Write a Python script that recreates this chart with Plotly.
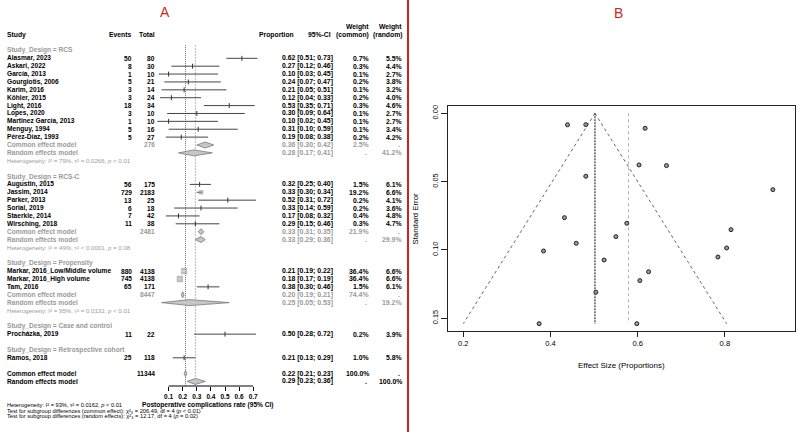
import math
import plotly.graph_objects as go

W, H = 798, 432
FONT = "Liberation Sans, Arial, Helvetica, sans-serif"
GRAY_TXT = "#9a9a9a"
RED = "#d01f1f"

# ---------------- Forest plot data ----------------
group_names = ["RCS", "RCS-C", "Propensity", "Case and control", "Retrospective cohort"]

study_names = ["Alasmar, 2023", "Askari, 2022", "García, 2013", "Gourgiotis, 2006", "Karim, 2016",
               "Köhler, 2015", "Light, 2016", "Lopes, 2020", "Martinez García, 2013", "Menguy, 1994",
               "Pérez-Díaz, 1993",
               "Augustin, 2015", "Jassim, 2014", "Parker, 2013", "Sorial, 2019", "Staerkle, 2014",
               "Wirsching, 2018",
               "Markar, 2016_Low/Middle volume", "Markar, 2016_High volume", "Tam, 2016",
               "Procházka, 2019",
               "Ramos, 2018"]
study_group = [0] * 11 + [1] * 6 + [2] * 3 + [3] + [4]
events = [50, 8, 1, 5, 3, 3, 18, 3, 1, 5, 5, 56, 729, 13, 6, 7, 11, 880, 745, 65, 11, 25]
totals = [80, 30, 10, 21, 14, 24, 34, 10, 10, 16, 27, 175, 2183, 25, 18, 42, 38, 4138, 4138, 171, 22, 118]
proportion = [0.62, 0.27, 0.10, 0.24, 0.21, 0.12, 0.53, 0.30, 0.10, 0.31, 0.19,
              0.32, 0.33, 0.52, 0.33, 0.17, 0.29, 0.21, 0.18, 0.38, 0.50, 0.21]
ci_lower = [0.51, 0.12, 0.03, 0.07, 0.05, 0.04, 0.35, 0.09, 0.02, 0.10, 0.08,
            0.25, 0.30, 0.31, 0.14, 0.08, 0.15, 0.19, 0.17, 0.30, 0.28, 0.13]
ci_upper = [0.73, 0.46, 0.45, 0.47, 0.51, 0.33, 0.71, 0.64, 0.45, 0.59, 0.38,
            0.40, 0.34, 0.72, 0.59, 0.32, 0.46, 0.22, 0.19, 0.46, 0.72, 0.29]
weight_common = [0.7, 0.3, 0.1, 0.2, 0.1, 0.2, 0.3, 0.1, 0.1, 0.1, 0.2,
                 1.5, 19.2, 0.2, 0.2, 0.4, 0.3, 36.4, 36.4, 1.5, 0.2, 1.0]
weight_random = [5.5, 4.4, 2.7, 3.8, 3.2, 4.0, 4.6, 2.7, 2.7, 3.4, 4.2,
                 6.1, 6.6, 4.1, 3.6, 4.8, 4.7, 6.6, 6.6, 6.1, 3.9, 5.8]

# subgroup summaries (groups with more than one study)
sub_total = [276, 2481, 8447]
sub_common_est = [0.36, 0.33, 0.20]
sub_common_lo = [0.30, 0.31, 0.19]
sub_common_hi = [0.42, 0.35, 0.21]
sub_common_weight = [2.5, 21.9, 74.4]
sub_random_est = [0.28, 0.33, 0.25]
sub_random_lo = [0.17, 0.29, 0.05]
sub_random_hi = [0.41, 0.36, 0.53]
sub_random_weight = [41.2, 29.9, 19.2]
sub_heterogeneity = ["Heterogeneity: I² = 79%, τ² = 0.0266, <i>p</i> < 0.01",
                     "Heterogeneity: I² = 49%, τ² < 0.0001, <i>p</i> = 0.08",
                     "Heterogeneity: I² = 95%, τ² = 0.0132, <i>p</i> < 0.01"]

overall_total = 11344
overall_common = [0.22, 0.21, 0.23]
overall_random = [0.29, 0.23, 0.36]
overall_weight = 100.0
overall_texts = ["Heterogeneity: I² = 93%, τ² = 0.0162, <i>p</i> < 0.01",
                 "Test for subgroup differences (common effect): χ²₄ = 206.49, df = 4 (<i>p</i> < 0.01)",
                 "Test for subgroup differences (random effects): χ²₄ = 12.17, df = 4 (<i>p</i> = 0.02)"]
forest_ticks = [0.1, 0.2, 0.3, 0.4, 0.5, 0.6, 0.7]

# ---------------- Funnel plot data ----------------
funnel_effect = [0.439, 0.481, 0.617, 0.603, 0.666, 0.481, 0.910, 0.432, 0.575, 0.814, 0.550,
                 0.459, 0.384, 0.804, 0.523, 0.784, 0.625, 0.605, 0.504, 0.374, 0.598]
funnel_se = [0.0084, 0.0083, 0.0110, 0.0378, 0.0383, 0.0461, 0.0559, 0.0764, 0.0805, 0.0852, 0.0903,
             0.0952, 0.1008, 0.0986, 0.1074, 0.1052, 0.1160, 0.1225, 0.1310, 0.1540, 0.1540]
funnel_center = 0.502
funnel_random = 0.579
funnel_se_max = 0.154
funnel_left_bottom = 0.200
funnel_right_bottom = 0.804
funnel_xticks = [0.2, 0.4, 0.6, 0.8]
funnel_yticks = [0.00, 0.05, 0.10, 0.15]


# ---------------- layout helpers ----------------
def px(x):
    return x / W


def py(y):
    return 1 - y / H


ROW_MIN, ROW_MAX = -4.86, 41.58          # forest y range (rows, reversed)
F_X0, F_X1 = 154.5, 260.25               # forest x-axis domain pixels
F_RANGE = [0, 0.75]
PX_PER_UNIT = (F_X1 - F_X0) / (F_RANGE[1] - F_RANGE[0])

# assign rows
rows_study = []
group_label_rows, common_rows, random_rows, het_rows = [], [], [], []
r = -1
for g, name in enumerate(group_names):
    group_label_rows.append(r)
    r += 1
    n = study_group.count(g)
    for _ in range(n):
        rows_study.append(r)
        r += 1
    if n > 1:
        common_rows.append(r)
        random_rows.append(r + 1)
        het_rows.append(r + 2)
        r += 3
    r += 1
overall_common_row = r
overall_random_row = r + 1

fig = go.Figure()
FX = dict(xaxis="x", yaxis="y")

# reference lines
fig.add_trace(go.Scatter(x=[overall_common[0]] * 2, y=[-1.7, ROW_MAX], mode="lines",
                         line=dict(color="#6e6e6e", width=1, dash="1px,1px"), hoverinfo="skip", **FX))
fig.add_trace(go.Scatter(x=[overall_random[0]] * 2, y=[-1.7, ROW_MAX], mode="lines",
                         line=dict(color="#a8a8a8", width=0.8, dash="2px,1px"), hoverinfo="skip", **FX))

# CI lines
xs, ys = [], []
for lo, hi, rr in zip(ci_lower, ci_upper, rows_study):
    xs += [lo, hi, None]
    ys += [rr, rr, None]
fig.add_trace(go.Scatter(x=xs, y=ys, mode="lines", line=dict(color="#454545", width=1),
                         hoverinfo="skip", **FX))

# squares
sq_size = [max(1.2, math.sqrt(w) * 1.05) for w in weight_common]
fig.add_trace(go.Scatter(x=proportion, y=rows_study, mode="markers",
                         marker=dict(symbol="square", size=sq_size, color="#a3a3a3",
                                     line=dict(width=0)), hoverinfo="skip", **FX))
# white inside lines where CI is narrower than square
xs, ys = [], []
for lo, hi, rr, s in zip(ci_lower, ci_upper, rows_study, sq_size):
    if (hi - lo) * PX_PER_UNIT < s:
        xs += [lo, hi, None]
        ys += [rr, rr, None]
fig.add_trace(go.Scatter(x=xs, y=ys, mode="lines", line=dict(color="white", width=1),
                         hoverinfo="skip", **FX))
# small estimate ticks
tx = [p for p, w in zip(proportion, weight_common) if w < 5]
ty = [rr for rr, w in zip(rows_study, weight_common) if w < 5]
fig.add_trace(go.Scatter(x=tx, y=ty, mode="markers",
                         marker=dict(symbol="line-ns-open", size=3.5, color="#333333",
                                     line=dict(width=1, color="#333333")),
                         hoverinfo="skip", **FX))


def diamond(est, lo, hi, row, fill="#c6c6c6", edge="#7a7a7a"):
    h = 0.38
    fig.add_trace(go.Scatter(x=[lo, est, hi, est, lo], y=[row, row - h, row, row + h, row],
                             mode="lines", fill="toself", fillcolor=fill,
                             line=dict(color=edge, width=0.8), hoverinfo="skip", **FX))


for k in range(len(sub_total)):
    diamond(sub_common_est[k], sub_common_lo[k], sub_common_hi[k], common_rows[k])
    diamond(sub_random_est[k], sub_random_lo[k], sub_random_hi[k], random_rows[k])
diamond(overall_common[0], overall_common[1], overall_common[2], overall_common_row)
diamond(overall_random[0], overall_random[1], overall_random[2], overall_random_row)

# ---------------- funnel ----------------
FF = dict(xaxis="x2", yaxis="y2")
fig.add_trace(go.Scatter(x=[funnel_center, funnel_left_bottom, None, funnel_center, funnel_right_bottom],
                         y=[0, funnel_se_max, None, 0, funnel_se_max], mode="lines",
                         line=dict(color="#555555", width=0.9, dash="dot"), hoverinfo="skip", **FF))
fig.add_trace(go.Scatter(x=[funnel_center, funnel_center], y=[0, funnel_se_max], mode="lines",
                         line=dict(color="#444444", width=1.3, dash="2px,1px"), hoverinfo="skip", **FF))
fig.add_trace(go.Scatter(x=[funnel_random, funnel_random], y=[0, funnel_se_max], mode="lines",
                         line=dict(color="#9a9a9a", width=0.8, dash="dot"), hoverinfo="skip", **FF))
fig.add_trace(go.Scatter(x=funnel_effect, y=funnel_se, mode="markers",
                         marker=dict(symbol="circle", size=4, color="#9a9a9a",
                                     line=dict(color="#222222", width=1)), hoverinfo="skip", **FF))

# ---------------- annotations ----------------
ann = []


def txt(x, y, s, anchor="left", size=6.6, color="black", bold=True, yref="y", angle=0):
    ann.append(dict(x=px(x), xref="paper", y=y if yref == "y" else py(y), yref=yref,
                    text=s, showarrow=False, xanchor=anchor, yanchor="middle", borderpad=0,
                    textangle=angle,
                    font=dict(family=FONT, size=size, color=color, weight="bold" if bold else "normal")))


COL_NAME, COL_EV, COL_TOT, COL_CI, COL_WC, COL_WR = 6, 133, 155.7, 334, 370, 402.7
HDR = -3.0
HDR2 = -4.0
txt(COL_NAME, HDR, "Study", size=6.8)
txt(COL_EV, HDR, "Events", "right", 6.8)
txt(COL_TOT, HDR, "Total", "right", 6.8)
txt(295, HDR, "Proportion", "right", 6.8)
txt(332, HDR, "95%-CI", "right", 6.8)
txt(COL_WC, HDR2, "Weight", "right", 6.8)
txt(COL_WC, HDR, "(common)", "right", 6.8)
txt(COL_WR, HDR2, "Weight", "right", 6.8)
txt(COL_WR, HDR, "(random)", "right", 6.8)


def ci_str(e, lo, hi):
    return f"{e:.2f} [{lo:.2f}; {hi:.2f}]"


for g, rr in enumerate(group_label_rows):
    txt(COL_NAME, rr, f"Study_Design = {group_names[g]}", color=GRAY_TXT)

for i, rr in enumerate(rows_study):
    txt(COL_NAME, rr, study_names[i])
    txt(COL_EV, rr, str(events[i]), "right")
    txt(COL_TOT, rr, str(totals[i]), "right")
    txt(COL_CI, rr, ci_str(proportion[i], ci_lower[i], ci_upper[i]), "right", 6.9)
    txt(COL_WC, rr, f"{weight_common[i]:.1f}%", "right", 6.9)
    txt(COL_WR, rr, f"{weight_random[i]:.1f}%", "right", 6.9)

for k in range(len(sub_total)):
    rc, rrn, rh = common_rows[k], random_rows[k], het_rows[k]
    txt(COL_NAME, rc, "Common effect model", color=GRAY_TXT)
    txt(COL_TOT, rc, str(sub_total[k]), "right", color=GRAY_TXT)
    txt(COL_CI, rc, ci_str(sub_common_est[k], sub_common_lo[k], sub_common_hi[k]), "right", 6.9, GRAY_TXT)
    txt(COL_WC, rc, f"{sub_common_weight[k]:.1f}%", "right", 6.9, GRAY_TXT)
    txt(COL_WR - 2, rc, ".", "right", 6.9, GRAY_TXT)
    txt(COL_NAME, rrn, "Random effects model", color=GRAY_TXT)
    txt(COL_CI, rrn, ci_str(sub_random_est[k], sub_random_lo[k], sub_random_hi[k]), "right", 6.9, GRAY_TXT)
    txt(COL_WC - 2, rrn, ".", "right", 6.9, GRAY_TXT)
    txt(COL_WR, rrn, f"{sub_random_weight[k]:.1f}%", "right", 6.9, GRAY_TXT)
    txt(COL_NAME, rh, sub_heterogeneity[k], size=6.1, color=GRAY_TXT, bold=False)

txt(COL_NAME, overall_common_row, "Common effect model")
txt(COL_TOT, overall_common_row, str(overall_total), "right")
txt(COL_CI, overall_common_row, ci_str(*overall_common), "right", 6.9)
txt(COL_WC, overall_common_row, f"{overall_weight:.1f}%", "right", 6.9)
txt(COL_WR - 2, overall_common_row, ".", "right", 6.9)
txt(COL_NAME, overall_random_row, "Random effects model")
txt(COL_CI, overall_random_row, ci_str(*overall_random), "right", 6.9)
txt(COL_WC - 2, overall_random_row, ".", "right", 6.9)
txt(COL_WR, overall_random_row, f"{overall_weight:.1f}%", "right", 6.9)

for s, yy in zip(overall_texts, [405, 410.6, 416.2]):
    txt(COL_NAME, yy, s, size=5.7, bold=False, yref="paper")
txt(208, 405, "Postoperative complications rate (95% CI)", "center", 6.6, yref="paper")

# panel letters & funnel titles
txt(165, 12, "A", "center", 14, RED, bold=False, yref="paper")
txt(618, 13, "B", "center", 14, RED, bold=False, yref="paper")
txt(415, 218.5, "Standard Error", "center", 7.8, bold=False, yref="paper", angle=-90)
txt(621.7, 365, "Effect Size (Proportions)", "center", 8, bold=False, yref="paper")

shapes = [
    dict(type="line", xref="paper", yref="paper", x0=px(408), x1=px(408), y0=0, y1=1,
         line=dict(color=RED, width=2)),
    dict(type="line", xref="x", yref="paper", x0=forest_ticks[0], x1=forest_ticks[-1],
         y0=py(386), y1=py(386), line=dict(color="black", width=1)),
]

fig.update_layout(
    width=W, height=H, margin=dict(l=0, r=0, t=0, b=0, pad=0, autoexpand=False),
    paper_bgcolor="white", plot_bgcolor="white", showlegend=False,
    font=dict(family=FONT),
    annotations=ann, shapes=shapes,
    xaxis=dict(domain=[px(F_X0), px(F_X1)], range=F_RANGE, anchor="y",
               showgrid=False, zeroline=False, showline=False,
               ticks="outside", ticklen=4, tickwidth=1, tickcolor="black",
               tickvals=forest_ticks, ticktext=[f"{t:.1f}" for t in forest_ticks],
               tickfont=dict(family=FONT, size=6.5, color="black", weight="bold")),
    yaxis=dict(domain=[py(386), py(20)], range=[ROW_MAX, ROW_MIN], anchor="x", visible=False),
    xaxis2=dict(domain=[px(448), px(795.3)], range=[0.1649, 0.9615], anchor="y2",
                showgrid=False, zeroline=False, showline=True, mirror=True,
                linecolor="#222222", linewidth=1,
                ticks="outside", ticklen=5, tickcolor="#222222",
                tickvals=funnel_xticks, ticktext=[f"{t:.1f}" for t in funnel_xticks],
                tickfont=dict(family=FONT, size=7.6, color="black")),
    yaxis2=dict(domain=[py(331.3), py(106)], range=[0.1596, -0.00534], anchor="x2",
                showgrid=False, zeroline=False, showline=True, mirror=True,
                linecolor="#222222", linewidth=1,
                ticks="outside", ticklen=6, tickcolor="#222222", tickangle=-90,
                tickvals=funnel_yticks, ticktext=[f"{t:.2f}" for t in funnel_yticks],
                tickfont=dict(family=FONT, size=7.4, color="black")),
)

fig.write_html("out.html",
               config={"displayModeBar": False, "staticPlot": True},
               post_script="document.body.style.margin='0';document.body.style.overflow='hidden';")
